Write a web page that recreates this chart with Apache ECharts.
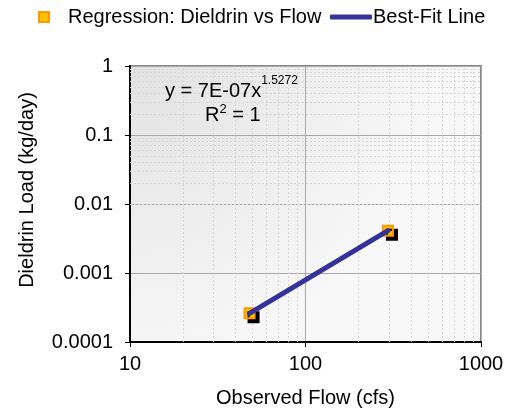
<!DOCTYPE html>
<html>
<head>
<meta charset="utf-8">
<script src="https://cdn.jsdelivr.net/npm/echarts@6/dist/echarts.min.js"></script>
<style>
  html, body { margin: 0; padding: 0; background: #fff; }
  #chart { width: 520px; height: 411px; }
</style>
</head>
<body>
<div id="chart"></div>
<script>
// observed points (flow in cfs, load in kg/day)
var flow = [48, 295];
var load = [0.00026, 0.0041];
// best-fit line end points
var fitFlow = [48, 295];
var fitLoad = [0.00026, 0.0041];

var xTickLabels = ['10', '100', '1000'];
var yTickLabels = ['0.0001', '0.001', '0.01', '0.1', '1'];

// minor grid positions (2..9 in each decade)
var xMinor = [20, 30, 40, 50, 60, 70, 80, 90, 200, 300, 400, 500, 600, 700, 800, 900];
var yMinor = [0.0002, 0.0003, 0.0004, 0.0005, 0.0006, 0.0007, 0.0008, 0.0009,
              0.002, 0.003, 0.004, 0.005, 0.006, 0.007, 0.008, 0.009,
              0.02, 0.03, 0.04, 0.05, 0.06, 0.07, 0.08, 0.09,
              0.2, 0.3, 0.4, 0.5, 0.6, 0.7, 0.8, 0.9];

var font = 'Liberation Sans, Arial, sans-serif';
var fs = 20;

function fmt(list, v) {
    var i = Math.round(Math.log10(v));
    return list[i - Math.round(Math.log10(Number(list[0])))] || '';
}

var minorLines = [];
xMinor.forEach(function (v) { minorLines.push({ xAxis: v }); });
yMinor.forEach(function (v) { minorLines.push({ yAxis: v }); });

var myChart = echarts.init(document.getElementById('chart'));
myChart.setOption({
    animation: false,
    textStyle: { fontFamily: font },
    grid: {
        left: 130, right: 39, top: 66, bottom: 69,
        outerBoundsMode: 'none',
        containLabel: false,
        show: true,
        borderWidth: 2,
        borderColor: '#888',
        backgroundColor: new echarts.graphic.RadialGradient(0, 0, 1.1, [
            { offset: 0, color: '#e2e2e2' },
            { offset: 1, color: '#f8f8f8' }
        ])
    },
    legend: [{
        left: 33, top: 2,
        icon: 'rect',
        itemWidth: 10, itemHeight: 10,
        textStyle: { fontSize: fs, color: '#000', fontFamily: font, padding: [0, 0, 0, 14] },
        data: ['Regression: Dieldrin vs Flow']
    }, {
        left: 325, top: 2,
        icon: 'roundRect',
        itemWidth: 42, itemHeight: 5,
        itemGap: 0,
        textStyle: { fontSize: fs, color: '#000', fontFamily: font, padding: [0, 0, 0, -4] },
        data: ['Best-Fit Line']
    }],
    xAxis: {
        type: 'log',
        min: 10, max: 1000,
        logBase: 10,
        name: 'Observed Flow (cfs)',
        nameLocation: 'middle',
        nameGap: 46,
        nameTextStyle: { fontSize: fs, color: '#000', fontFamily: font },
        axisLine: { lineStyle: { color: '#000', width: 2 } },
        axisTick: { show: true, length: 5, lineStyle: { color: '#000' } },
        axisLabel: {
            fontSize: fs, color: '#000', margin: 12,
            formatter: function (v) { return fmt(xTickLabels, v); }
        },
        splitLine: { show: true, lineStyle: { color: '#a8a8a8', width: 1 } }
    },
    yAxis: {
        type: 'log',
        min: 0.0001, max: 1,
        logBase: 10,
        axisLine: { show: true, lineStyle: { color: '#000', width: 2 } },
        axisTick: { show: true, length: 5, lineStyle: { color: '#000' } },
        axisLabel: {
            fontSize: fs, color: '#000', margin: 17,
            formatter: function (v) { return fmt(yTickLabels, v); }
        },
        splitLine: { show: true, lineStyle: { color: '#a8a8a8', width: 1 } }
    },
    graphic: [{
        type: 'text',
        x: 27, y: 190,
        rotation: Math.PI / 2,
        z: 10,
        style: {
            text: 'Dieldrin Load (kg/day)',
            fontSize: fs, fontFamily: font, fill: '#000',
            align: 'center', verticalAlign: 'middle'
        }
    }, {
        type: 'text',
        left: 165, top: 75,
        z: 10,
        style: {
            text: '{b|y = 7E-07x}{s|1.5272}',
            rich: {
                b: { fontSize: fs, fontFamily: font, fill: '#000', verticalAlign: 'bottom', lineHeight: 24 },
                s: { fontSize: 12, fontFamily: font, fill: '#000', verticalAlign: 'top', padding: [0, 0, 14, 0] }
            }
        }
    }, {
        type: 'text',
        left: 205, top: 103,
        z: 10,
        style: {
            text: '{b|R}{s|2}{b| = 1}',
            rich: {
                b: { fontSize: fs, fontFamily: font, fill: '#000', lineHeight: 24 },
                s: { fontSize: 13, fontFamily: font, fill: '#000', padding: [0, 0, 12, 0] }
            }
        }
    }],
    series: [{
        name: 'minor',
        type: 'line',
        data: [],
        silent: true,
        z: 1,
        markLine: {
            silent: true,
            z: 1,
            symbol: 'none',
            label: { show: false },
            lineStyle: { color: '#d6d6d6', type: [2, 2], width: 1 },
            data: minorLines
        }
    }, {
        name: 'Regression: Dieldrin vs Flow',
        type: 'scatter',
        symbol: 'rect',
        symbolSize: 10,
        itemStyle: {
            color: '#ffc000',
            borderColor: '#ff9900',
            borderWidth: 2,
            shadowColor: '#000',
            shadowBlur: 0,
            shadowOffsetX: 4,
            shadowOffsetY: 4,
            opacity: 1
        },
        z: 3,
        data: flow.map(function (f, i) { return [f, load[i]]; })
    }, {
        name: 'Best-Fit Line',
        type: 'line',
        symbol: 'none',
        lineStyle: { color: '#333399', width: 5, cap: 'round' },
        itemStyle: { color: '#333399' },
        z: 4,
        data: fitFlow.map(function (f, i) { return [f, fitLoad[i]]; })
    }]
});
</script>
</body>
</html>
